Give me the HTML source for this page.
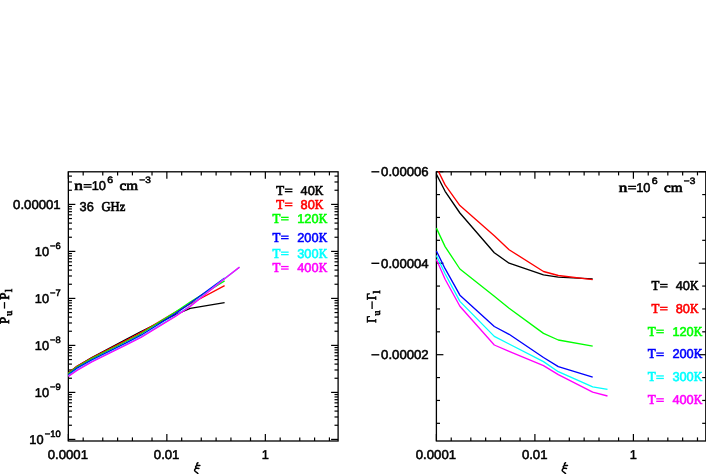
<!DOCTYPE html>
<html><head><meta charset="utf-8"><title>plot</title>
<style>
html,body{margin:0;padding:0;background:#fff;}
body{width:706px;height:474px;overflow:hidden;font-family:"Liberation Serif",serif;}
svg{display:block;will-change:transform;}
text{white-space:pre;}
</style></head><body>
<svg width="706" height="474" viewBox="0 0 706 474" xml:space="preserve">
<defs><filter id="noaa" filterUnits="userSpaceOnUse" x="0" y="0" width="706" height="474"><feOffset dx="0" dy="0"/></filter></defs>
<rect x="0" y="0" width="706" height="474" fill="#fff"/>
<rect x="68.35" y="171.80" width="269.75" height="269.20" fill="none" stroke="#000" stroke-width="1.3"/>
<g stroke="#000">
<line x1="68.35" y1="441.00" x2="68.35" y2="434.00" stroke-width="1.2"/>
<line x1="68.35" y1="171.80" x2="68.35" y2="178.80" stroke-width="1.2"/>
<line x1="83.18" y1="441.00" x2="83.18" y2="437.40" stroke-width="1.2"/>
<line x1="83.18" y1="171.80" x2="83.18" y2="175.40" stroke-width="1.2"/>
<line x1="102.77" y1="441.00" x2="102.77" y2="437.40" stroke-width="1.2"/>
<line x1="102.77" y1="171.80" x2="102.77" y2="175.40" stroke-width="1.2"/>
<line x1="117.60" y1="441.00" x2="117.60" y2="437.40" stroke-width="1.2"/>
<line x1="117.60" y1="171.80" x2="117.60" y2="175.40" stroke-width="1.2"/>
<line x1="132.43" y1="441.00" x2="132.43" y2="437.40" stroke-width="1.2"/>
<line x1="132.43" y1="171.80" x2="132.43" y2="175.40" stroke-width="1.2"/>
<line x1="152.02" y1="441.00" x2="152.02" y2="437.40" stroke-width="1.2"/>
<line x1="152.02" y1="171.80" x2="152.02" y2="175.40" stroke-width="1.2"/>
<line x1="166.85" y1="441.00" x2="166.85" y2="434.00" stroke-width="1.2"/>
<line x1="166.85" y1="171.80" x2="166.85" y2="178.80" stroke-width="1.2"/>
<line x1="181.68" y1="441.00" x2="181.68" y2="437.40" stroke-width="1.2"/>
<line x1="181.68" y1="171.80" x2="181.68" y2="175.40" stroke-width="1.2"/>
<line x1="201.27" y1="441.00" x2="201.27" y2="437.40" stroke-width="1.2"/>
<line x1="201.27" y1="171.80" x2="201.27" y2="175.40" stroke-width="1.2"/>
<line x1="216.10" y1="441.00" x2="216.10" y2="437.40" stroke-width="1.2"/>
<line x1="216.10" y1="171.80" x2="216.10" y2="175.40" stroke-width="1.2"/>
<line x1="230.93" y1="441.00" x2="230.93" y2="437.40" stroke-width="1.2"/>
<line x1="230.93" y1="171.80" x2="230.93" y2="175.40" stroke-width="1.2"/>
<line x1="250.52" y1="441.00" x2="250.52" y2="437.40" stroke-width="1.2"/>
<line x1="250.52" y1="171.80" x2="250.52" y2="175.40" stroke-width="1.2"/>
<line x1="265.35" y1="441.00" x2="265.35" y2="434.00" stroke-width="1.2"/>
<line x1="265.35" y1="171.80" x2="265.35" y2="178.80" stroke-width="1.2"/>
<line x1="280.18" y1="441.00" x2="280.18" y2="437.40" stroke-width="1.2"/>
<line x1="280.18" y1="171.80" x2="280.18" y2="175.40" stroke-width="1.2"/>
<line x1="299.77" y1="441.00" x2="299.77" y2="437.40" stroke-width="1.2"/>
<line x1="299.77" y1="171.80" x2="299.77" y2="175.40" stroke-width="1.2"/>
<line x1="314.60" y1="441.00" x2="314.60" y2="437.40" stroke-width="1.2"/>
<line x1="314.60" y1="171.80" x2="314.60" y2="175.40" stroke-width="1.2"/>
<line x1="329.43" y1="441.00" x2="329.43" y2="437.40" stroke-width="1.2"/>
<line x1="329.43" y1="171.80" x2="329.43" y2="175.40" stroke-width="1.2"/>
</g>
<g stroke="#000">
<line x1="68.35" y1="204.40" x2="75.35" y2="204.40" stroke-width="1.2"/>
<line x1="338.10" y1="204.40" x2="331.10" y2="204.40" stroke-width="1.2"/>
<line x1="68.35" y1="190.25" x2="71.95" y2="190.25" stroke-width="1.2"/>
<line x1="338.10" y1="190.25" x2="334.50" y2="190.25" stroke-width="1.2"/>
<line x1="68.35" y1="181.98" x2="71.95" y2="181.98" stroke-width="1.2"/>
<line x1="338.10" y1="181.98" x2="334.50" y2="181.98" stroke-width="1.2"/>
<line x1="68.35" y1="176.10" x2="71.95" y2="176.10" stroke-width="1.2"/>
<line x1="338.10" y1="176.10" x2="334.50" y2="176.10" stroke-width="1.2"/>
<line x1="68.35" y1="251.40" x2="75.35" y2="251.40" stroke-width="1.2"/>
<line x1="338.10" y1="251.40" x2="331.10" y2="251.40" stroke-width="1.2"/>
<line x1="68.35" y1="237.25" x2="71.95" y2="237.25" stroke-width="1.2"/>
<line x1="338.10" y1="237.25" x2="334.50" y2="237.25" stroke-width="1.2"/>
<line x1="68.35" y1="228.98" x2="71.95" y2="228.98" stroke-width="1.2"/>
<line x1="338.10" y1="228.98" x2="334.50" y2="228.98" stroke-width="1.2"/>
<line x1="68.35" y1="223.10" x2="71.95" y2="223.10" stroke-width="1.2"/>
<line x1="338.10" y1="223.10" x2="334.50" y2="223.10" stroke-width="1.2"/>
<line x1="68.35" y1="218.55" x2="71.95" y2="218.55" stroke-width="1.2"/>
<line x1="338.10" y1="218.55" x2="334.50" y2="218.55" stroke-width="1.2"/>
<line x1="68.35" y1="214.83" x2="71.95" y2="214.83" stroke-width="1.2"/>
<line x1="338.10" y1="214.83" x2="334.50" y2="214.83" stroke-width="1.2"/>
<line x1="68.35" y1="211.68" x2="71.95" y2="211.68" stroke-width="1.2"/>
<line x1="338.10" y1="211.68" x2="334.50" y2="211.68" stroke-width="1.2"/>
<line x1="68.35" y1="208.95" x2="71.95" y2="208.95" stroke-width="1.2"/>
<line x1="338.10" y1="208.95" x2="334.50" y2="208.95" stroke-width="1.2"/>
<line x1="68.35" y1="206.55" x2="71.95" y2="206.55" stroke-width="1.2"/>
<line x1="338.10" y1="206.55" x2="334.50" y2="206.55" stroke-width="1.2"/>
<line x1="68.35" y1="298.40" x2="75.35" y2="298.40" stroke-width="1.2"/>
<line x1="338.10" y1="298.40" x2="331.10" y2="298.40" stroke-width="1.2"/>
<line x1="68.35" y1="284.25" x2="71.95" y2="284.25" stroke-width="1.2"/>
<line x1="338.10" y1="284.25" x2="334.50" y2="284.25" stroke-width="1.2"/>
<line x1="68.35" y1="275.98" x2="71.95" y2="275.98" stroke-width="1.2"/>
<line x1="338.10" y1="275.98" x2="334.50" y2="275.98" stroke-width="1.2"/>
<line x1="68.35" y1="270.10" x2="71.95" y2="270.10" stroke-width="1.2"/>
<line x1="338.10" y1="270.10" x2="334.50" y2="270.10" stroke-width="1.2"/>
<line x1="68.35" y1="265.55" x2="71.95" y2="265.55" stroke-width="1.2"/>
<line x1="338.10" y1="265.55" x2="334.50" y2="265.55" stroke-width="1.2"/>
<line x1="68.35" y1="261.83" x2="71.95" y2="261.83" stroke-width="1.2"/>
<line x1="338.10" y1="261.83" x2="334.50" y2="261.83" stroke-width="1.2"/>
<line x1="68.35" y1="258.68" x2="71.95" y2="258.68" stroke-width="1.2"/>
<line x1="338.10" y1="258.68" x2="334.50" y2="258.68" stroke-width="1.2"/>
<line x1="68.35" y1="255.95" x2="71.95" y2="255.95" stroke-width="1.2"/>
<line x1="338.10" y1="255.95" x2="334.50" y2="255.95" stroke-width="1.2"/>
<line x1="68.35" y1="253.55" x2="71.95" y2="253.55" stroke-width="1.2"/>
<line x1="338.10" y1="253.55" x2="334.50" y2="253.55" stroke-width="1.2"/>
<line x1="68.35" y1="345.40" x2="75.35" y2="345.40" stroke-width="1.2"/>
<line x1="338.10" y1="345.40" x2="331.10" y2="345.40" stroke-width="1.2"/>
<line x1="68.35" y1="331.25" x2="71.95" y2="331.25" stroke-width="1.2"/>
<line x1="338.10" y1="331.25" x2="334.50" y2="331.25" stroke-width="1.2"/>
<line x1="68.35" y1="322.98" x2="71.95" y2="322.98" stroke-width="1.2"/>
<line x1="338.10" y1="322.98" x2="334.50" y2="322.98" stroke-width="1.2"/>
<line x1="68.35" y1="317.10" x2="71.95" y2="317.10" stroke-width="1.2"/>
<line x1="338.10" y1="317.10" x2="334.50" y2="317.10" stroke-width="1.2"/>
<line x1="68.35" y1="312.55" x2="71.95" y2="312.55" stroke-width="1.2"/>
<line x1="338.10" y1="312.55" x2="334.50" y2="312.55" stroke-width="1.2"/>
<line x1="68.35" y1="308.83" x2="71.95" y2="308.83" stroke-width="1.2"/>
<line x1="338.10" y1="308.83" x2="334.50" y2="308.83" stroke-width="1.2"/>
<line x1="68.35" y1="305.68" x2="71.95" y2="305.68" stroke-width="1.2"/>
<line x1="338.10" y1="305.68" x2="334.50" y2="305.68" stroke-width="1.2"/>
<line x1="68.35" y1="302.95" x2="71.95" y2="302.95" stroke-width="1.2"/>
<line x1="338.10" y1="302.95" x2="334.50" y2="302.95" stroke-width="1.2"/>
<line x1="68.35" y1="300.55" x2="71.95" y2="300.55" stroke-width="1.2"/>
<line x1="338.10" y1="300.55" x2="334.50" y2="300.55" stroke-width="1.2"/>
<line x1="68.35" y1="392.40" x2="75.35" y2="392.40" stroke-width="1.2"/>
<line x1="338.10" y1="392.40" x2="331.10" y2="392.40" stroke-width="1.2"/>
<line x1="68.35" y1="378.25" x2="71.95" y2="378.25" stroke-width="1.2"/>
<line x1="338.10" y1="378.25" x2="334.50" y2="378.25" stroke-width="1.2"/>
<line x1="68.35" y1="369.98" x2="71.95" y2="369.98" stroke-width="1.2"/>
<line x1="338.10" y1="369.98" x2="334.50" y2="369.98" stroke-width="1.2"/>
<line x1="68.35" y1="364.10" x2="71.95" y2="364.10" stroke-width="1.2"/>
<line x1="338.10" y1="364.10" x2="334.50" y2="364.10" stroke-width="1.2"/>
<line x1="68.35" y1="359.55" x2="71.95" y2="359.55" stroke-width="1.2"/>
<line x1="338.10" y1="359.55" x2="334.50" y2="359.55" stroke-width="1.2"/>
<line x1="68.35" y1="355.83" x2="71.95" y2="355.83" stroke-width="1.2"/>
<line x1="338.10" y1="355.83" x2="334.50" y2="355.83" stroke-width="1.2"/>
<line x1="68.35" y1="352.68" x2="71.95" y2="352.68" stroke-width="1.2"/>
<line x1="338.10" y1="352.68" x2="334.50" y2="352.68" stroke-width="1.2"/>
<line x1="68.35" y1="349.95" x2="71.95" y2="349.95" stroke-width="1.2"/>
<line x1="338.10" y1="349.95" x2="334.50" y2="349.95" stroke-width="1.2"/>
<line x1="68.35" y1="347.55" x2="71.95" y2="347.55" stroke-width="1.2"/>
<line x1="338.10" y1="347.55" x2="334.50" y2="347.55" stroke-width="1.2"/>
<line x1="68.35" y1="439.40" x2="75.35" y2="439.40" stroke-width="1.2"/>
<line x1="338.10" y1="439.40" x2="331.10" y2="439.40" stroke-width="1.2"/>
<line x1="68.35" y1="425.25" x2="71.95" y2="425.25" stroke-width="1.2"/>
<line x1="338.10" y1="425.25" x2="334.50" y2="425.25" stroke-width="1.2"/>
<line x1="68.35" y1="416.98" x2="71.95" y2="416.98" stroke-width="1.2"/>
<line x1="338.10" y1="416.98" x2="334.50" y2="416.98" stroke-width="1.2"/>
<line x1="68.35" y1="411.10" x2="71.95" y2="411.10" stroke-width="1.2"/>
<line x1="338.10" y1="411.10" x2="334.50" y2="411.10" stroke-width="1.2"/>
<line x1="68.35" y1="406.55" x2="71.95" y2="406.55" stroke-width="1.2"/>
<line x1="338.10" y1="406.55" x2="334.50" y2="406.55" stroke-width="1.2"/>
<line x1="68.35" y1="402.83" x2="71.95" y2="402.83" stroke-width="1.2"/>
<line x1="338.10" y1="402.83" x2="334.50" y2="402.83" stroke-width="1.2"/>
<line x1="68.35" y1="399.68" x2="71.95" y2="399.68" stroke-width="1.2"/>
<line x1="338.10" y1="399.68" x2="334.50" y2="399.68" stroke-width="1.2"/>
<line x1="68.35" y1="396.95" x2="71.95" y2="396.95" stroke-width="1.2"/>
<line x1="338.10" y1="396.95" x2="334.50" y2="396.95" stroke-width="1.2"/>
<line x1="68.35" y1="394.55" x2="71.95" y2="394.55" stroke-width="1.2"/>
<line x1="338.10" y1="394.55" x2="334.50" y2="394.55" stroke-width="1.2"/>
</g>
<rect x="436.40" y="171.80" width="269.40" height="269.20" fill="none" stroke="#000" stroke-width="1.3"/>
<g stroke="#000">
<line x1="436.40" y1="441.00" x2="436.40" y2="434.00" stroke-width="1.2"/>
<line x1="436.40" y1="171.80" x2="436.40" y2="178.80" stroke-width="1.2"/>
<line x1="451.23" y1="441.00" x2="451.23" y2="437.40" stroke-width="1.2"/>
<line x1="451.23" y1="171.80" x2="451.23" y2="175.40" stroke-width="1.2"/>
<line x1="470.82" y1="441.00" x2="470.82" y2="437.40" stroke-width="1.2"/>
<line x1="470.82" y1="171.80" x2="470.82" y2="175.40" stroke-width="1.2"/>
<line x1="485.65" y1="441.00" x2="485.65" y2="437.40" stroke-width="1.2"/>
<line x1="485.65" y1="171.80" x2="485.65" y2="175.40" stroke-width="1.2"/>
<line x1="500.48" y1="441.00" x2="500.48" y2="437.40" stroke-width="1.2"/>
<line x1="500.48" y1="171.80" x2="500.48" y2="175.40" stroke-width="1.2"/>
<line x1="520.07" y1="441.00" x2="520.07" y2="437.40" stroke-width="1.2"/>
<line x1="520.07" y1="171.80" x2="520.07" y2="175.40" stroke-width="1.2"/>
<line x1="534.90" y1="441.00" x2="534.90" y2="434.00" stroke-width="1.2"/>
<line x1="534.90" y1="171.80" x2="534.90" y2="178.80" stroke-width="1.2"/>
<line x1="549.73" y1="441.00" x2="549.73" y2="437.40" stroke-width="1.2"/>
<line x1="549.73" y1="171.80" x2="549.73" y2="175.40" stroke-width="1.2"/>
<line x1="569.32" y1="441.00" x2="569.32" y2="437.40" stroke-width="1.2"/>
<line x1="569.32" y1="171.80" x2="569.32" y2="175.40" stroke-width="1.2"/>
<line x1="584.15" y1="441.00" x2="584.15" y2="437.40" stroke-width="1.2"/>
<line x1="584.15" y1="171.80" x2="584.15" y2="175.40" stroke-width="1.2"/>
<line x1="598.98" y1="441.00" x2="598.98" y2="437.40" stroke-width="1.2"/>
<line x1="598.98" y1="171.80" x2="598.98" y2="175.40" stroke-width="1.2"/>
<line x1="618.57" y1="441.00" x2="618.57" y2="437.40" stroke-width="1.2"/>
<line x1="618.57" y1="171.80" x2="618.57" y2="175.40" stroke-width="1.2"/>
<line x1="633.40" y1="441.00" x2="633.40" y2="434.00" stroke-width="1.2"/>
<line x1="633.40" y1="171.80" x2="633.40" y2="178.80" stroke-width="1.2"/>
<line x1="648.23" y1="441.00" x2="648.23" y2="437.40" stroke-width="1.2"/>
<line x1="648.23" y1="171.80" x2="648.23" y2="175.40" stroke-width="1.2"/>
<line x1="667.82" y1="441.00" x2="667.82" y2="437.40" stroke-width="1.2"/>
<line x1="667.82" y1="171.80" x2="667.82" y2="175.40" stroke-width="1.2"/>
<line x1="682.65" y1="441.00" x2="682.65" y2="437.40" stroke-width="1.2"/>
<line x1="682.65" y1="171.80" x2="682.65" y2="175.40" stroke-width="1.2"/>
<line x1="697.48" y1="441.00" x2="697.48" y2="437.40" stroke-width="1.2"/>
<line x1="697.48" y1="171.80" x2="697.48" y2="175.40" stroke-width="1.2"/>
</g>
<g stroke="#000">
<line x1="436.40" y1="171.70" x2="443.40" y2="171.70" stroke-width="1.2"/>
<line x1="705.80" y1="171.70" x2="698.80" y2="171.70" stroke-width="1.2"/>
<line x1="436.40" y1="194.57" x2="440.00" y2="194.57" stroke-width="1.2"/>
<line x1="705.80" y1="194.57" x2="702.20" y2="194.57" stroke-width="1.2"/>
<line x1="436.40" y1="217.45" x2="440.00" y2="217.45" stroke-width="1.2"/>
<line x1="705.80" y1="217.45" x2="702.20" y2="217.45" stroke-width="1.2"/>
<line x1="436.40" y1="240.32" x2="440.00" y2="240.32" stroke-width="1.2"/>
<line x1="705.80" y1="240.32" x2="702.20" y2="240.32" stroke-width="1.2"/>
<line x1="436.40" y1="263.20" x2="443.40" y2="263.20" stroke-width="1.2"/>
<line x1="705.80" y1="263.20" x2="698.80" y2="263.20" stroke-width="1.2"/>
<line x1="436.40" y1="286.07" x2="440.00" y2="286.07" stroke-width="1.2"/>
<line x1="705.80" y1="286.07" x2="702.20" y2="286.07" stroke-width="1.2"/>
<line x1="436.40" y1="308.95" x2="440.00" y2="308.95" stroke-width="1.2"/>
<line x1="705.80" y1="308.95" x2="702.20" y2="308.95" stroke-width="1.2"/>
<line x1="436.40" y1="331.82" x2="440.00" y2="331.82" stroke-width="1.2"/>
<line x1="705.80" y1="331.82" x2="702.20" y2="331.82" stroke-width="1.2"/>
<line x1="436.40" y1="354.70" x2="443.40" y2="354.70" stroke-width="1.2"/>
<line x1="705.80" y1="354.70" x2="698.80" y2="354.70" stroke-width="1.2"/>
<line x1="436.40" y1="377.57" x2="440.00" y2="377.57" stroke-width="1.2"/>
<line x1="705.80" y1="377.57" x2="702.20" y2="377.57" stroke-width="1.2"/>
<line x1="436.40" y1="400.45" x2="440.00" y2="400.45" stroke-width="1.2"/>
<line x1="705.80" y1="400.45" x2="702.20" y2="400.45" stroke-width="1.2"/>
<line x1="436.40" y1="423.32" x2="440.00" y2="423.32" stroke-width="1.2"/>
<line x1="705.80" y1="423.32" x2="702.20" y2="423.32" stroke-width="1.2"/>
</g>
<g filter="url(#noaa)" text-rendering="geometricPrecision">
<text x="67.85" y="458.70" font-family="Liberation Sans" stroke-width="0.55" font-size="12.8" text-anchor="middle" fill="#000" stroke="#000" textLength="40.20" lengthAdjust="spacingAndGlyphs" >0.0001</text>
<text x="166.65" y="458.70" font-family="Liberation Sans" stroke-width="0.55" font-size="12.8" text-anchor="middle" fill="#000" stroke="#000" textLength="25.60" lengthAdjust="spacingAndGlyphs" >0.01</text>
<text x="265.35" y="458.70" font-family="Liberation Sans" stroke-width="0.55" font-size="12.8" text-anchor="middle" fill="#000" stroke="#000" >1</text>
<text x="435.90" y="458.70" font-family="Liberation Sans" stroke-width="0.55" font-size="12.8" text-anchor="middle" fill="#000" stroke="#000" textLength="40.20" lengthAdjust="spacingAndGlyphs" >0.0001</text>
<text x="534.70" y="458.70" font-family="Liberation Sans" stroke-width="0.55" font-size="12.8" text-anchor="middle" fill="#000" stroke="#000" textLength="25.60" lengthAdjust="spacingAndGlyphs" >0.01</text>
<text x="633.40" y="458.70" font-family="Liberation Sans" stroke-width="0.55" font-size="12.8" text-anchor="middle" fill="#000" stroke="#000" >1</text>
<path transform="translate(0,0)" d="M198.0,462.7 C196.7,463.3 196.4,464.6 197.4,465.2 L199.9,465.5 M197.4,465.2 C195.7,465.8 195.0,467.3 196.3,468.0 L198.9,468.4 M196.6,468.0 C194.6,468.8 193.9,470.5 195.4,471.5 C196.6,472.3 197.9,472.9 198.3,474.6" fill="none" stroke="#000" stroke-width="1.5" stroke-linecap="round" stroke-linejoin="round"><title>ξ</title></path>
<path transform="translate(367.6,0)" d="M198.0,462.7 C196.7,463.3 196.4,464.6 197.4,465.2 L199.9,465.5 M197.4,465.2 C195.7,465.8 195.0,467.3 196.3,468.0 L198.9,468.4 M196.6,468.0 C194.6,468.8 193.9,470.5 195.4,471.5 C196.6,472.3 197.9,472.9 198.3,474.6" fill="none" stroke="#000" stroke-width="1.5" stroke-linecap="round" stroke-linejoin="round"><title>ξ</title></path>
<text x="60.70" y="208.80" font-family="Liberation Sans" stroke-width="0.55" font-size="12.8" text-anchor="end" fill="#000" stroke="#000" textLength="47.60" lengthAdjust="spacingAndGlyphs" >0.00001</text>
<text x="60.70" y="248.90" font-family="Liberation Sans" stroke-width="0.55" font-size="9.4" text-anchor="end" fill="#000" stroke="#000" >−6</text>
<text x="49.00" y="255.80" font-family="Liberation Sans" stroke-width="0.55" font-size="12.8" text-anchor="end" fill="#000" stroke="#000" >10</text>
<text x="60.70" y="295.90" font-family="Liberation Sans" stroke-width="0.55" font-size="9.4" text-anchor="end" fill="#000" stroke="#000" >−7</text>
<text x="49.00" y="302.80" font-family="Liberation Sans" stroke-width="0.55" font-size="12.8" text-anchor="end" fill="#000" stroke="#000" >10</text>
<text x="60.70" y="342.90" font-family="Liberation Sans" stroke-width="0.55" font-size="9.4" text-anchor="end" fill="#000" stroke="#000" >−8</text>
<text x="49.00" y="349.80" font-family="Liberation Sans" stroke-width="0.55" font-size="12.8" text-anchor="end" fill="#000" stroke="#000" >10</text>
<text x="60.70" y="389.90" font-family="Liberation Sans" stroke-width="0.55" font-size="9.4" text-anchor="end" fill="#000" stroke="#000" >−9</text>
<text x="49.00" y="396.80" font-family="Liberation Sans" stroke-width="0.55" font-size="12.8" text-anchor="end" fill="#000" stroke="#000" >10</text>
<text x="60.70" y="436.90" font-family="Liberation Sans" stroke-width="0.55" font-size="9.4" text-anchor="end" fill="#000" stroke="#000" >−10</text>
<text x="43.60" y="443.80" font-family="Liberation Sans" stroke-width="0.55" font-size="12.8" text-anchor="end" fill="#000" stroke="#000" >10</text>
<text x="428.70" y="176.00" font-family="Liberation Sans" stroke-width="0.55" font-size="12.8" text-anchor="end" fill="#000" stroke="#000" textLength="47.60" lengthAdjust="spacingAndGlyphs" >0.00006</text>
<rect x="371.4" y="171.10" width="7.9" height="1.4" fill="#000"/>
<text x="428.70" y="267.50" font-family="Liberation Sans" stroke-width="0.55" font-size="12.8" text-anchor="end" fill="#000" stroke="#000" textLength="47.60" lengthAdjust="spacingAndGlyphs" >0.00004</text>
<rect x="371.4" y="262.60" width="7.9" height="1.4" fill="#000"/>
<text x="428.70" y="359.00" font-family="Liberation Sans" stroke-width="0.55" font-size="12.8" text-anchor="end" fill="#000" stroke="#000" textLength="47.60" lengthAdjust="spacingAndGlyphs" >0.00002</text>
<rect x="371.4" y="354.10" width="7.9" height="1.4" fill="#000"/>
<text x="74.30" y="190.00" font-family="Liberation Serif" stroke-width="0.7" font-size="13.6" text-anchor="start" fill="#000" stroke="#000" textLength="8.60" lengthAdjust="spacingAndGlyphs" >n</text>
<rect x="83.60" y="184.00" width="8.00" height="1.3" fill="#000"/><rect x="83.60" y="186.50" width="8.00" height="1.3" fill="#000"/>
<text x="91.70" y="190.00" font-family="Liberation Sans" stroke-width="0.55" font-size="12.8" text-anchor="start" fill="#000" stroke="#000" >10</text>
<text x="107.30" y="182.50" font-family="Liberation Sans" stroke-width="0.55" font-size="9.4" text-anchor="start" fill="#000" stroke="#000" textLength="5.90" lengthAdjust="spacingAndGlyphs" >6</text>
<text x="119.50" y="190.00" font-family="Liberation Serif" stroke-width="0.7" font-size="13.6" text-anchor="start" fill="#000" stroke="#000" textLength="18.50" lengthAdjust="spacingAndGlyphs" >cm</text>
<text x="139.30" y="182.50" font-family="Liberation Sans" stroke-width="0.55" font-size="9.4" text-anchor="start" fill="#000" stroke="#000" textLength="11.50" lengthAdjust="spacingAndGlyphs" >−3</text>
<text x="618.80" y="191.70" font-family="Liberation Serif" stroke-width="0.7" font-size="13.6" text-anchor="start" fill="#000" stroke="#000" textLength="8.60" lengthAdjust="spacingAndGlyphs" >n</text>
<rect x="628.10" y="185.70" width="8.00" height="1.3" fill="#000"/><rect x="628.10" y="188.20" width="8.00" height="1.3" fill="#000"/>
<text x="636.20" y="191.70" font-family="Liberation Sans" stroke-width="0.55" font-size="12.8" text-anchor="start" fill="#000" stroke="#000" >10</text>
<text x="651.80" y="184.20" font-family="Liberation Sans" stroke-width="0.55" font-size="9.4" text-anchor="start" fill="#000" stroke="#000" textLength="5.90" lengthAdjust="spacingAndGlyphs" >6</text>
<text x="664.00" y="191.70" font-family="Liberation Serif" stroke-width="0.7" font-size="13.6" text-anchor="start" fill="#000" stroke="#000" textLength="18.50" lengthAdjust="spacingAndGlyphs" >cm</text>
<text x="683.80" y="184.20" font-family="Liberation Sans" stroke-width="0.55" font-size="9.4" text-anchor="start" fill="#000" stroke="#000" textLength="11.50" lengthAdjust="spacingAndGlyphs" >−3</text>
<text x="79.60" y="210.60" font-family="Liberation Sans" stroke-width="0.55" font-size="12.8" text-anchor="start" fill="#000" stroke="#000" >36</text>
<text x="101.50" y="210.60" font-family="Liberation Serif" stroke-width="0.7" font-size="13.6" text-anchor="start" fill="#000" stroke="#000" textLength="23.80" lengthAdjust="spacingAndGlyphs" >GHz</text>
<text x="276.35" y="194.50" font-family="Liberation Serif" stroke-width="0.7" font-size="13.6" text-anchor="start" fill="#000000" stroke="#000000" textLength="7.90" lengthAdjust="spacingAndGlyphs" >T</text>
<rect x="284.85" y="188.50" width="7.60" height="1.3" fill="#000000"/><rect x="284.85" y="191.00" width="7.60" height="1.3" fill="#000000"/>
<text x="314.85" y="194.50" font-family="Liberation Serif" stroke-width="0.7" font-size="13.6" text-anchor="start" fill="#000000" stroke="#000000" textLength="8.60" lengthAdjust="spacingAndGlyphs" >K</text>
<text x="314.75" y="194.50" font-family="Liberation Sans" stroke-width="0.55" font-size="12.8" text-anchor="end" fill="#000000" stroke="#000000" >40</text>
<text x="276.35" y="208.50" font-family="Liberation Serif" stroke-width="0.7" font-size="13.6" text-anchor="start" fill="#ff0000" stroke="#ff0000" textLength="7.90" lengthAdjust="spacingAndGlyphs" >T</text>
<rect x="284.85" y="202.50" width="7.60" height="1.3" fill="#ff0000"/><rect x="284.85" y="205.00" width="7.60" height="1.3" fill="#ff0000"/>
<text x="314.85" y="208.50" font-family="Liberation Serif" stroke-width="0.7" font-size="13.6" text-anchor="start" fill="#ff0000" stroke="#ff0000" textLength="8.60" lengthAdjust="spacingAndGlyphs" >K</text>
<text x="314.75" y="208.50" font-family="Liberation Sans" stroke-width="0.55" font-size="12.8" text-anchor="end" fill="#ff0000" stroke="#ff0000" >80</text>
<text x="272.55" y="222.70" font-family="Liberation Serif" stroke-width="0.7" font-size="13.6" text-anchor="start" fill="#00ff00" stroke="#00ff00" textLength="7.90" lengthAdjust="spacingAndGlyphs" >T</text>
<rect x="281.05" y="216.70" width="7.60" height="1.3" fill="#00ff00"/><rect x="281.05" y="219.20" width="7.60" height="1.3" fill="#00ff00"/>
<text x="318.65" y="222.70" font-family="Liberation Serif" stroke-width="0.7" font-size="13.6" text-anchor="start" fill="#00ff00" stroke="#00ff00" textLength="8.60" lengthAdjust="spacingAndGlyphs" >K</text>
<text x="318.55" y="222.70" font-family="Liberation Sans" stroke-width="0.55" font-size="12.8" text-anchor="end" fill="#00ff00" stroke="#00ff00" >120</text>
<text x="272.55" y="241.50" font-family="Liberation Serif" stroke-width="0.7" font-size="13.6" text-anchor="start" fill="#0000ff" stroke="#0000ff" textLength="7.90" lengthAdjust="spacingAndGlyphs" >T</text>
<rect x="281.05" y="235.50" width="7.60" height="1.3" fill="#0000ff"/><rect x="281.05" y="238.00" width="7.60" height="1.3" fill="#0000ff"/>
<text x="318.65" y="241.50" font-family="Liberation Serif" stroke-width="0.7" font-size="13.6" text-anchor="start" fill="#0000ff" stroke="#0000ff" textLength="8.60" lengthAdjust="spacingAndGlyphs" >K</text>
<text x="318.55" y="241.50" font-family="Liberation Sans" stroke-width="0.55" font-size="12.8" text-anchor="end" fill="#0000ff" stroke="#0000ff" >200</text>
<text x="272.55" y="257.50" font-family="Liberation Serif" stroke-width="0.7" font-size="13.6" text-anchor="start" fill="#00ffff" stroke="#00ffff" textLength="7.90" lengthAdjust="spacingAndGlyphs" >T</text>
<rect x="281.05" y="251.50" width="7.60" height="1.3" fill="#00ffff"/><rect x="281.05" y="254.00" width="7.60" height="1.3" fill="#00ffff"/>
<text x="318.65" y="257.50" font-family="Liberation Serif" stroke-width="0.7" font-size="13.6" text-anchor="start" fill="#00ffff" stroke="#00ffff" textLength="8.60" lengthAdjust="spacingAndGlyphs" >K</text>
<text x="318.55" y="257.50" font-family="Liberation Sans" stroke-width="0.55" font-size="12.8" text-anchor="end" fill="#00ffff" stroke="#00ffff" >300</text>
<text x="272.55" y="271.90" font-family="Liberation Serif" stroke-width="0.7" font-size="13.6" text-anchor="start" fill="#ff00ff" stroke="#ff00ff" textLength="7.90" lengthAdjust="spacingAndGlyphs" >T</text>
<rect x="281.05" y="265.90" width="7.60" height="1.3" fill="#ff00ff"/><rect x="281.05" y="268.40" width="7.60" height="1.3" fill="#ff00ff"/>
<text x="318.65" y="271.90" font-family="Liberation Serif" stroke-width="0.7" font-size="13.6" text-anchor="start" fill="#ff00ff" stroke="#ff00ff" textLength="8.60" lengthAdjust="spacingAndGlyphs" >K</text>
<text x="318.55" y="271.90" font-family="Liberation Sans" stroke-width="0.55" font-size="12.8" text-anchor="end" fill="#ff00ff" stroke="#ff00ff" >400</text>
<text x="651.55" y="289.80" font-family="Liberation Serif" stroke-width="0.7" font-size="13.6" text-anchor="start" fill="#000000" stroke="#000000" textLength="7.90" lengthAdjust="spacingAndGlyphs" >T</text>
<rect x="660.05" y="283.80" width="7.60" height="1.3" fill="#000000"/><rect x="660.05" y="286.30" width="7.60" height="1.3" fill="#000000"/>
<text x="690.05" y="289.80" font-family="Liberation Serif" stroke-width="0.7" font-size="13.6" text-anchor="start" fill="#000000" stroke="#000000" textLength="8.60" lengthAdjust="spacingAndGlyphs" >K</text>
<text x="689.95" y="289.80" font-family="Liberation Sans" stroke-width="0.55" font-size="12.8" text-anchor="end" fill="#000000" stroke="#000000" >40</text>
<text x="651.55" y="312.68" font-family="Liberation Serif" stroke-width="0.7" font-size="13.6" text-anchor="start" fill="#ff0000" stroke="#ff0000" textLength="7.90" lengthAdjust="spacingAndGlyphs" >T</text>
<rect x="660.05" y="306.68" width="7.60" height="1.3" fill="#ff0000"/><rect x="660.05" y="309.18" width="7.60" height="1.3" fill="#ff0000"/>
<text x="690.05" y="312.68" font-family="Liberation Serif" stroke-width="0.7" font-size="13.6" text-anchor="start" fill="#ff0000" stroke="#ff0000" textLength="8.60" lengthAdjust="spacingAndGlyphs" >K</text>
<text x="689.95" y="312.68" font-family="Liberation Sans" stroke-width="0.55" font-size="12.8" text-anchor="end" fill="#ff0000" stroke="#ff0000" >80</text>
<text x="647.75" y="335.55" font-family="Liberation Serif" stroke-width="0.7" font-size="13.6" text-anchor="start" fill="#00ff00" stroke="#00ff00" textLength="7.90" lengthAdjust="spacingAndGlyphs" >T</text>
<rect x="656.25" y="329.55" width="7.60" height="1.3" fill="#00ff00"/><rect x="656.25" y="332.05" width="7.60" height="1.3" fill="#00ff00"/>
<text x="693.85" y="335.55" font-family="Liberation Serif" stroke-width="0.7" font-size="13.6" text-anchor="start" fill="#00ff00" stroke="#00ff00" textLength="8.60" lengthAdjust="spacingAndGlyphs" >K</text>
<text x="693.75" y="335.55" font-family="Liberation Sans" stroke-width="0.55" font-size="12.8" text-anchor="end" fill="#00ff00" stroke="#00ff00" >120</text>
<text x="647.75" y="358.43" font-family="Liberation Serif" stroke-width="0.7" font-size="13.6" text-anchor="start" fill="#0000ff" stroke="#0000ff" textLength="7.90" lengthAdjust="spacingAndGlyphs" >T</text>
<rect x="656.25" y="352.43" width="7.60" height="1.3" fill="#0000ff"/><rect x="656.25" y="354.93" width="7.60" height="1.3" fill="#0000ff"/>
<text x="693.85" y="358.43" font-family="Liberation Serif" stroke-width="0.7" font-size="13.6" text-anchor="start" fill="#0000ff" stroke="#0000ff" textLength="8.60" lengthAdjust="spacingAndGlyphs" >K</text>
<text x="693.75" y="358.43" font-family="Liberation Sans" stroke-width="0.55" font-size="12.8" text-anchor="end" fill="#0000ff" stroke="#0000ff" >200</text>
<text x="647.75" y="381.30" font-family="Liberation Serif" stroke-width="0.7" font-size="13.6" text-anchor="start" fill="#00ffff" stroke="#00ffff" textLength="7.90" lengthAdjust="spacingAndGlyphs" >T</text>
<rect x="656.25" y="375.30" width="7.60" height="1.3" fill="#00ffff"/><rect x="656.25" y="377.80" width="7.60" height="1.3" fill="#00ffff"/>
<text x="693.85" y="381.30" font-family="Liberation Serif" stroke-width="0.7" font-size="13.6" text-anchor="start" fill="#00ffff" stroke="#00ffff" textLength="8.60" lengthAdjust="spacingAndGlyphs" >K</text>
<text x="693.75" y="381.30" font-family="Liberation Sans" stroke-width="0.55" font-size="12.8" text-anchor="end" fill="#00ffff" stroke="#00ffff" >300</text>
<text x="647.75" y="404.18" font-family="Liberation Serif" stroke-width="0.7" font-size="13.6" text-anchor="start" fill="#ff00ff" stroke="#ff00ff" textLength="7.90" lengthAdjust="spacingAndGlyphs" >T</text>
<rect x="656.25" y="398.18" width="7.60" height="1.3" fill="#ff00ff"/><rect x="656.25" y="400.68" width="7.60" height="1.3" fill="#ff00ff"/>
<text x="693.85" y="404.18" font-family="Liberation Serif" stroke-width="0.7" font-size="13.6" text-anchor="start" fill="#ff00ff" stroke="#ff00ff" textLength="8.60" lengthAdjust="spacingAndGlyphs" >K</text>
<text x="693.75" y="404.18" font-family="Liberation Sans" stroke-width="0.55" font-size="12.8" text-anchor="end" fill="#ff00ff" stroke="#ff00ff" >400</text>
<g transform="translate(8.8,324.0) rotate(-90)">
<text x="0.00" y="0.00" font-family="Liberation Serif" stroke-width="0.7" font-size="13.6" text-anchor="start" fill="#000" stroke="#000" textLength="7.10" lengthAdjust="spacingAndGlyphs" >P</text>
<text x="8.20" y="3.30" font-family="Liberation Serif" stroke-width="0.7" font-size="10.0" text-anchor="start" fill="#000" stroke="#000" textLength="5.00" lengthAdjust="spacingAndGlyphs" >u</text>
<rect x="15.40" y="-4.95" width="6.50" height="1.3" fill="#000"/>
<text x="24.20" y="0.00" font-family="Liberation Serif" stroke-width="0.7" font-size="13.6" text-anchor="start" fill="#000" stroke="#000" textLength="7.10" lengthAdjust="spacingAndGlyphs" >P</text>
<text x="32.00" y="3.30" font-family="Liberation Serif" stroke-width="0.7" font-size="10.0" text-anchor="start" fill="#000" stroke="#000" textLength="3.00" lengthAdjust="spacingAndGlyphs" >l</text>
</g>
<g transform="translate(376.4,322.6) rotate(-90)">
<text x="-0.20" y="0.00" font-family="Liberation Serif" stroke-width="0.7" font-size="13.6" text-anchor="start" fill="#000" stroke="#000" textLength="6.70" lengthAdjust="spacingAndGlyphs" >Γ</text>
<text x="7.20" y="3.30" font-family="Liberation Serif" stroke-width="0.7" font-size="10.0" text-anchor="start" fill="#000" stroke="#000" textLength="5.00" lengthAdjust="spacingAndGlyphs" >u</text>
<rect x="13.60" y="-4.95" width="7.70" height="1.3" fill="#000"/>
<text x="22.50" y="0.00" font-family="Liberation Serif" stroke-width="0.7" font-size="13.6" text-anchor="start" fill="#000" stroke="#000" textLength="6.70" lengthAdjust="spacingAndGlyphs" >Γ</text>
<text x="29.10" y="3.30" font-family="Liberation Serif" stroke-width="0.7" font-size="10.0" text-anchor="start" fill="#000" stroke="#000" textLength="3.00" lengthAdjust="spacingAndGlyphs" >l</text>
</g>
</g>
<defs><clipPath id="c1"><rect x="67.70" y="171.15" width="271.05" height="270.50"/></clipPath><clipPath id="c2"><rect x="435.75" y="171.15" width="270.70" height="270.50"/></clipPath></defs>
<g clip-path="url(#c1)" fill="none" stroke-width="1.35" stroke-linejoin="round" stroke-linecap="butt">
<polyline points="68.4,373.0 77.0,366.3 91.8,357.6 126.2,339.4 141.0,331.5 175.4,314.6 190.2,308.3 224.6,302.6" stroke="#000000"/>
<polyline points="68.4,373.0 77.0,366.3 91.8,357.8 126.2,340.4 141.0,332.6 175.4,312.2 190.2,304.0 224.6,285.6" stroke="#ff0000"/>
<polyline points="68.4,373.6 77.0,367.0 91.8,358.6 126.2,341.5 141.0,333.8 175.4,312.0 190.2,302.0 224.6,280.9" stroke="#00ff00"/>
<polyline points="68.4,374.7 77.0,368.1 91.8,359.8 126.2,342.9 141.0,335.2 175.4,313.6 190.2,303.3 224.6,278.0" stroke="#0000ff"/>
<polyline points="68.4,375.9 77.0,369.8 91.8,361.4 126.2,344.4 141.0,336.9 175.4,315.8 190.2,305.8 224.6,278.6 239.5,267.2" stroke="#00ffff"/>
<polyline points="68.4,376.4 77.0,370.4 91.8,361.9 126.2,344.9 141.0,337.4 175.4,316.4 190.2,306.4 224.6,278.7 239.5,267.1" stroke="#ff00ff"/>
</g>
<g clip-path="url(#c2)" fill="none" stroke-width="1.35" stroke-linejoin="round" stroke-linecap="butt">
<polyline points="436.4,174.2 445.1,191.3 459.9,213.0 494.3,252.7 509.1,263.2 543.5,274.9 558.3,277.1 592.7,278.9" stroke="#000000"/>
<polyline points="436.4,167.2 445.1,184.9 459.9,205.6 494.3,235.7 509.1,249.7 543.5,271.5 558.3,275.5 592.7,279.6" stroke="#ff0000"/>
<polyline points="436.4,228.1 445.1,246.6 459.9,269.0 494.3,296.2 509.1,308.2 543.5,333.4 558.3,340.0 592.7,346.1" stroke="#00ff00"/>
<polyline points="436.4,251.0 445.1,268.7 459.9,295.2 494.3,326.5 509.1,334.3 543.5,357.5 558.3,366.6 592.7,377.2" stroke="#0000ff"/>
<polyline points="436.4,255.5 445.1,273.7 459.9,301.4 494.3,336.4 509.1,344.0 543.5,361.6 558.3,371.7 592.7,386.9 607.5,389.4" stroke="#00ffff"/>
<polyline points="436.4,259.6 445.1,279.3 459.9,306.3 494.3,345.0 509.1,351.3 543.5,365.6 558.3,374.6 592.7,392.2 607.5,396.0" stroke="#ff00ff"/>
</g>
</svg>
</body></html>
